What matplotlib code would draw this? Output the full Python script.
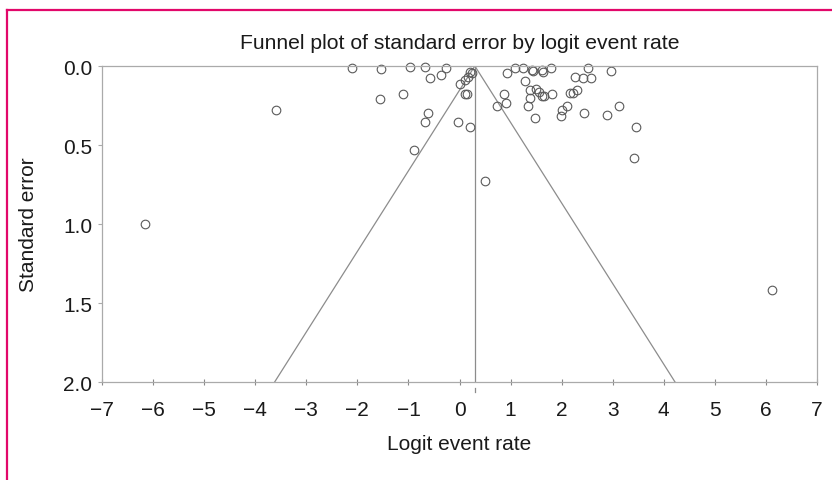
import matplotlib.pyplot as plt
from matplotlib.lines import Line2D

plt.rcParams['font.family'] = ['Liberation Sans', 'DejaVu Sans']

# 各研究的 logit 事件率与标准误
logit_rate = [-6.16, -3.59, -2.10, -1.54, -1.56, -1.10, -0.97, -0.68, -0.58, -0.36,
              -0.27, -0.61, -0.67, -0.89, -0.02, 0.21, 0.50, 0.21, 0.24, 0.17,
              0.11, 0.00, 0.11, 0.14, 0.74, 0.87, 0.91, 0.93, 1.09, 1.25,
              1.29, 1.41, 1.43, 1.61, 1.64, 1.80, 1.38, 1.50, 1.55, 1.61,
              1.66, 1.81, 1.38, 1.34, 1.48, 1.98, 2.00, 2.10, 2.16, 2.23,
              2.30, 2.26, 2.42, 2.57, 2.52, 2.96, 2.43, 2.89, 3.12, 3.45,
              3.42, 6.12]
std_err = [1.00, 0.28, 0.01, 0.02, 0.21, 0.18, 0.008, 0.008, 0.073, 0.057,
           0.015, 0.30, 0.355, 0.53, 0.355, 0.386, 0.73, 0.036, 0.046, 0.067,
           0.088, 0.115, 0.176, 0.18, 0.256, 0.175, 0.236, 0.046, 0.015, 0.012,
           0.094, 0.027, 0.031, 0.025, 0.036, 0.01, 0.155, 0.143, 0.165, 0.193,
           0.19, 0.177, 0.205, 0.256, 0.332, 0.318, 0.277, 0.256, 0.168, 0.172,
           0.152, 0.069, 0.077, 0.077, 0.015, 0.033, 0.300, 0.309, 0.256, 0.384,
           0.585, 1.415]
mean_rate = 0.3  # 合并估计值
se_max = 2.0

fig = plt.figure(figsize=(8.32, 4.81), dpi=100)
ax = fig.add_axes([0.1226, 0.2037, 0.8594, 0.657])

grey = '#8c8c8c'
# 漏斗线与中心线
ax.plot([mean_rate - 1.96 * se_max, mean_rate, mean_rate + 1.96 * se_max], [se_max, 0, se_max],
        color=grey, lw=0.9)
ax.plot([mean_rate, mean_rate], [0, se_max], color=grey, lw=0.9)
ax.plot([mean_rate, mean_rate], [2.035, 2.06], color=grey, lw=0.9, clip_on=False)

ax.plot(logit_rate, std_err, 'o', ms=6.2, mfc='none', mec='#5a5a5a', mew=0.8, clip_on=False)

ax.set_xlim(-7, 7)
ax.set_ylim(2, 0)
ax.set_xticks(range(-7, 8))
ax.set_xticklabels([str(v).replace('-', '\u2212') for v in range(-7, 8)])
ax.set_yticks([0, 0.5, 1.0, 1.5, 2.0])
ax.set_yticklabels(['0.0', '0.5', '1.0', '1.5', '2.0'])
for s in ax.spines.values():
    s.set_color('#aaaaaa')
    s.set_linewidth(0.9)
ax.tick_params(axis='x', direction='inout', length=4, width=0.8, color='#888888',
               labelsize=15, pad=11, labelcolor='#1a1a1a')
ax.tick_params(axis='y', direction='out', length=3, width=0.8, color='#aaaaaa',
               labelsize=15, pad=4, labelcolor='#1a1a1a')

ax.set_xlabel('Logit event rate', fontsize=15, color='#1a1a1a')
ax.xaxis.set_label_coords(0.5, -0.165)
ax.set_ylabel('Standard error', fontsize=15, color='#1a1a1a')
ax.yaxis.set_label_coords(-0.0895, 0.5)
fig.text(0.5523, 0.9106, 'Funnel plot of standard error by logit event rate',
         ha='center', va='center', fontsize=15.2, color='#1a1a1a')

# 粉色边框
pink = '#e2076a'
fig.add_artist(Line2D([7 / 832, 1], [1 - 11 / 481, 1 - 11 / 481], color=pink, lw=1.6))
fig.add_artist(Line2D([7 / 832, 7 / 832], [0, 1 - 11 / 481], color=pink, lw=1.6))

fig.savefig('out.png', dpi=100)
